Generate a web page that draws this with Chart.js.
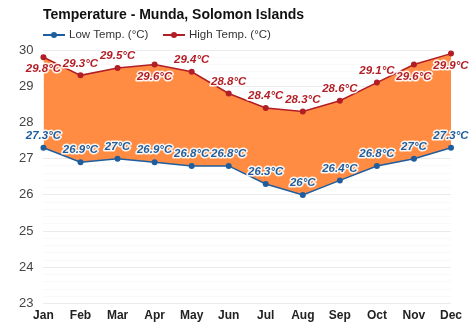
<!DOCTYPE html>
<html>
<head>
<meta charset="utf-8">
<script src="https://cdn.jsdelivr.net/npm/chart.js@4/dist/chart.umd.min.js"></script>
<style>
  html, body { margin: 0; padding: 0; background: #fff; }
  #wrap { width: 474px; height: 331px; }
</style>
</head>
<body>
<div id="wrap"><canvas id="tempChart" width="474" height="331"></canvas></div>
<script>
var months = ['Jan', 'Feb', 'Mar', 'Apr', 'May', 'Jun', 'Jul', 'Aug', 'Sep', 'Oct', 'Nov', 'Dec']
var lowTemp = [27.3, 26.9, 27, 26.9, 26.8, 26.8, 26.3, 26, 26.4, 26.8, 27, 27.3]
var highTemp = [29.8, 29.3, 29.5, 29.6, 29.4, 28.8, 28.4, 28.3, 28.6, 29.1, 29.6, 29.9]
// nhãn của đường cao: 1 = dưới điểm, 0 = trên điểm
var highBelow = [1, 0, 0, 1, 0, 0, 0, 0, 0, 0, 1, 1]
var titleText = 'Temperature - Munda, Solomon Islands'
var legendText = ['Low Temp. (°C)', 'High Temp. (°C)']

var lowColor = 'rgb(31, 94, 158)'
var highColor = 'rgb(178, 30, 38)'
var fillColor = 'rgb(255, 140, 66)'
var fontName = '"Liberation Sans", Arial, sans-serif'

// vẽ tiêu đề, chú thích và nhãn giá trị
var labelPlugin = {
    id: 'labelPlugin',
    afterDatasetsDraw: function (chart) {
        var ctx = chart.ctx
        ctx.save()
        ctx.font = 'italic bold 11.5px ' + fontName
        ctx.textAlign = 'center'
        ctx.textBaseline = 'middle'
        ctx.lineJoin = 'round'
        ctx.lineWidth = 3
        ctx.strokeStyle = 'rgba(255,255,255,0.9)'
        var sets = [
            { meta: chart.getDatasetMeta(0), data: lowTemp, color: lowColor },
            { meta: chart.getDatasetMeta(1), data: highTemp, color: highColor }
        ]
        sets.forEach(function (s, di) {
            s.meta.data.forEach(function (pt, i) {
                var txt = s.data[i] + '°C'
                var dy = -12
                if (di == 1 && highBelow[i] == 1) dy = 12
                ctx.strokeText(txt, pt.x, pt.y + dy)
                ctx.fillStyle = s.color
                ctx.fillText(txt, pt.x, pt.y + dy)
            })
        })
        ctx.restore()
    },
    afterDraw: function (chart) {
        var ctx = chart.ctx
        ctx.save()
        ctx.fillStyle = '#111'
        ctx.font = 'bold 14px ' + fontName
        ctx.textAlign = 'left'
        ctx.textBaseline = 'middle'
        ctx.fillText(titleText, 43, 15)

        var items = [{ x: 43, color: lowColor }, { x: 163, color: highColor }]
        ctx.font = '11.5px ' + fontName
        items.forEach(function (it, i) {
            ctx.strokeStyle = it.color
            ctx.lineWidth = 2
            ctx.beginPath()
            ctx.moveTo(it.x, 35)
            ctx.lineTo(it.x + 22, 35)
            ctx.stroke()
            ctx.fillStyle = it.color
            ctx.beginPath()
            ctx.arc(it.x + 11, 35, 3, 0, Math.PI * 2)
            ctx.fill()
            ctx.fillStyle = '#333'
            ctx.fillText(legendText[i], it.x + 26, 35)
        })
        ctx.restore()
    }
}

new Chart(document.getElementById('tempChart'), {
    type: 'line',
    data: {
        labels: months,
        datasets: [
            { label: legendText[0], data: lowTemp, borderColor: lowColor, backgroundColor: lowColor, borderWidth: 1.5, pointRadius: 3, pointBackgroundColor: lowColor, pointBorderWidth: 0, fill: false, tension: 0 },
            { label: legendText[1], data: highTemp, borderColor: highColor, backgroundColor: fillColor, borderWidth: 1.5, pointRadius: 3, pointBackgroundColor: highColor, pointBorderWidth: 0, fill: '-1', tension: 0 }
        ]
    },
    options: {
        responsive: false,
        animation: false,
        layout: { padding: { top: 50, left: 9, right: 23, bottom: 3 } },
        scales: {
            x: {
                offset: false,
                grid: { display: false, drawTicks: false },
                border: { display: false },
                ticks: { color: '#222', font: { family: fontName, size: 12, weight: 'bold' }, padding: 5, maxRotation: 0 }
            },
            y: {
                min: 23,
                max: 30,
                border: { display: false },
                grid: {
                    color: function (c) {
                        var v = c.tick.value
                        return Math.abs(v - Math.round(v)) < 1e-6 ? 'rgba(0,0,0,0.08)' : 'rgba(0,0,0,0.025)'
                    },
                    drawTicks: false
                },
                ticks: {
                    stepSize: 0.2,
                    autoSkip: false,
                    color: '#444',
                    padding: 10,
                    font: { family: fontName, size: 13 },
                    callback: function (v) {
                        return Math.abs(v - Math.round(v)) < 1e-6 ? Math.round(v) : ''
                    }
                }
            }
        },
        plugins: {
            legend: { display: false },
            title: { display: false },
            tooltip: { enabled: false }
        }
    },
    plugins: [labelPlugin]
})
</script>
</body>
</html>
